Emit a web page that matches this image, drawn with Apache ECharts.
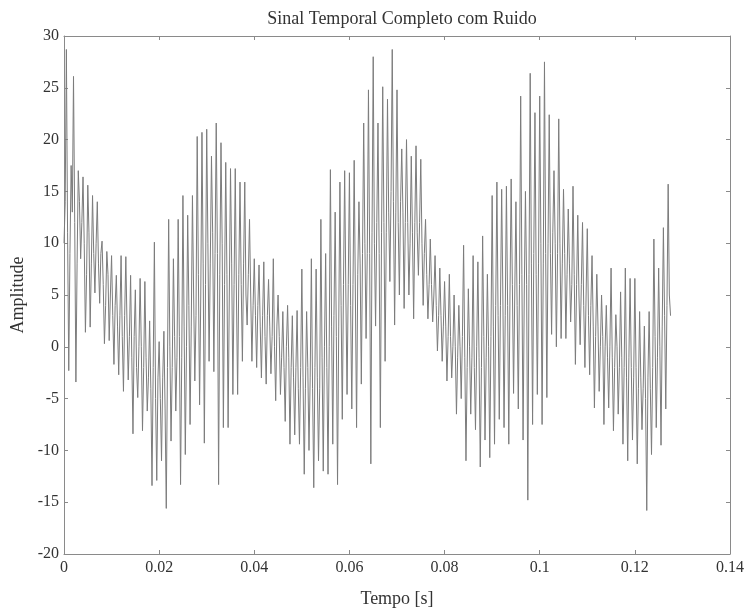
<!DOCTYPE html>
<html>
<head>
<meta charset="utf-8">
<script src="https://cdn.jsdelivr.net/npm/echarts@6/dist/echarts.min.js"></script>
<style>
html,body{margin:0;padding:0;background:#fff;}
#chart{width:748px;height:613px;}
</style>
</head>
<body>
<div id="chart"></div>
<script>
// Sampling of the signal
const sampleStart = 0;          // s
const samplePeriod = 0.00025;   // s between samples

// Amplitude samples, in four blocks
const amplitudeBlock1 = [
  10, 14, 28.7, 11, -2.3, 9, 17.5, 13,   26.1, 12, -3.4, 8, 17, 14, 8.5, 12,
  16.4, 10, 1.4, 7, 15.6, 11, 1.9, 8,    14.6, 9, 5.2, 10, 14, 8, 4.2, 9,
  10.2, 6, 0.3, 4, 9.2, 7, 0.6, 5,       8.8, 3, -1.7, 4, 6.9, 2, -2.7, 3,
  8.8, 1, -4.3, 3, 8.7, 2, -3.2, 1,      6.9, -1, -8.4, 1, 5.5, -2, -4.9, 0,
  6.6, 0, -8.1, -2, 6.3, -1, -6.2, -3,   2.5, -4, -13.4, -2, 10.1, -5, -12.9, -3,
  0.5, -5, -11, -3, 1.5, -6, -15.6, -2,  12.3, 0, -9.1, -2, 8.5, 1, -6.2, -1,
  12.3, 1, -13.3, -1, 14.6, 2, -10.4, 0, 12.7, 4, -7.5, 2, 14.6, 5, -3.3, 3,
  20.3, 7, -5.6, 5, 20.7, 8, -9.3, 6,    21, 10, -1.4, 8, 18.4, 11, -2.4, 9
];
const amplitudeBlock2 = [
  21.6, 9, -13.3, 7, 19.7, 10, -7.8, 6,  17.8, 7, -7.8, 5, 17.2, 8, -4.6, 6,
  17.2, 5, -4.6, 7, 15.9, 6, -1.4, 8,    15.9, 5, 2.1, 7, 12.3, 5, -1.4, 4,
  8.5, 3, -2, 4, 7.9, 2, -3, 3,          8.2, 1, -3.6, 3, 6.5, 2, -2.6, 1,
  8.5, 0, -5.2, 2, 5, 1, -4.6, -1,       3.4, -2, -7.2, 0, 4, -1, -9.4, -2,
  3, -3, -8.5, -2, 3.5, -4, -9.4, -2,    7.5, -3, -12.3, -4, 3.4, -2, -10, -3,
  8.5, -4, -13.6, -2, 7.5, -3, -11, -4,  12.3, -1, -12, 0, 9, -2, -12.3, 0,
  17.1, 2, -9.4, 3, 13, 1, -13.3, 2,     15.9, 4, -7, 6, 17, 5, -4.6, 6,
  16.8, 4, -6, 6, 18, 5, -7.8, 7,        14, 8, -3.6, 9, 21.6, 10, 0.8, 9
];
const amplitudeBlock3 = [
  24.8, 9, -11.3, 11, 28, 10, 2, 12,     21.6, 9, -7.8, 11, 25.1, 12, -1.4, 11,
  23.9, 13, 6.3, 15, 28.7, 14, 2.1, 13,  24.8, 12, 5, 14, 19.1, 13, 3.7, 12,
  20, 12, 5, 10, 18.4, 11, 2.7, 12,      19.4, 11, 6.9, 12, 18.1, 10, 4, 9,
  12.3, 7, 2.7, 6, 10.4, 6, 2.4, 5,      8.8, 4, -0.4, 3, 7.6, 3, -1.4, 2,
  6.3, 2, -3.3, 1, 7, 1, -3, 0,          5, 0, -6.5, -1, 4, 0, -5, 1,
  9.8, -1, -11, -2, 5.6, 0, -6.5, -1,    8.8, -2, -8, 0, 8.2, -1, -11.6, -2,
  10.7, 1, -9, -1, 7, 0, -10.7, 1,       14.6, 2, -9.4, 4, 15.9, 3, -7, 4,
  15.2, 5, -7.8, 3, 15.5, 4, -9.4, 5,    16.2, 6, -4.5, 5, 14, 4, -6, 6
];
const amplitudeBlock4 = [
  24.2, 7, -9, 5, 15, 6, -14.8, 7,       26.4, 8, -7.5, 9, 22.6, 7, -4.6, 8,
  24.2, 10, -7.5, 8, 27.5, 9, -4.9, 10,  22.4, 9, 1.2, 11, 17, 10, 0, 9,
  22, 10, 0.8, 8, 15.2, 9, 0.8, 7,       13.3, 8, 2.4, 6, 15.5, 7, -1.7, 6,
  12.7, 5, 0.2, 6, 12, 4, -2, 5,         11.4, 3, -2.7, 4, 8.8, 2, -5.9, 1,
  7, 2, -4.3, 0, 5, 1, -7.5, 0,          4, -1, -5.9, 0, 7.6, -1, -8.1, -2,
  3.1, 0, -6.5, -2, 5.3, -1, -9.4, -2,   7.6, -3, -11, -1, 6.6, -2, -9, -3,
  6.6, -2, -11.3, -4, 3.4, -3, -8, -4,   2, -5, -15.8, -3, 3.4, -4, -10.4, -2,
  10.4, 1, -7.8, -1, 7.6, 0, -9.5, 2,    11.5, 3, -6, 4, 15.7, 5, 3
];

// Axis ticks
const xTicks = [0, 0.02, 0.04, 0.06, 0.08, 0.1, 0.12, 0.14];
const yTicks = [-20, -15, -10, -5, 0, 5, 10, 15, 20, 25, 30];

const amplitude = amplitudeBlock1.concat(amplitudeBlock2, amplitudeBlock3, amplitudeBlock4);
const seriesData = amplitude.map((v, i) => [sampleStart + i * samplePeriod, v]);

const FONT = '"Liberation Serif", "DejaVu Serif", serif';
const AX = '#8a8a8a';
const TXT = '#333';

const chart = echarts.init(document.getElementById('chart'), null, {renderer: 'canvas'});
const baseX = {
  type: 'value',
  min: xTicks[0], max: xTicks[xTicks.length - 1], interval: 0.02,
  axisLine: {show: true, onZero: false, lineStyle: {color: AX, width: 1}},
  axisTick: {show: true, inside: true, length: 4, lineStyle: {color: AX}},
  splitLine: {show: false}
};
const baseY = {
  type: 'value',
  min: yTicks[0], max: yTicks[yTicks.length - 1], interval: 5,
  axisLine: {show: true, onZero: false, lineStyle: {color: AX, width: 1}},
  axisTick: {show: true, inside: true, length: 4, lineStyle: {color: AX}},
  splitLine: {show: false}
};
chart.setOption({
  animation: false,
  backgroundColor: '#fff',
  title: {
    text: 'Sinal Temporal Completo com Ruido',
    left: 397, top: 5, textAlign: 'center',
    textStyle: {fontFamily: FONT, fontSize: 18, fontWeight: 'normal', color: TXT}
  },
  grid: {left: 64, right: 18, top: 36, bottom: 56, containLabel: false},
  xAxis: [
    Object.assign({}, baseX, {
      position: 'bottom',
      name: 'Tempo [s]', nameLocation: 'middle', nameGap: 36,
      nameTextStyle: {fontFamily: FONT, fontSize: 18, color: TXT},
      axisLabel: {fontFamily: FONT, fontSize: 16, color: TXT, margin: 6,
        formatter: v => String(+v.toFixed(2))}
    }),
    Object.assign({}, baseX, {position: 'top', axisLabel: {show: false}})
  ],
  yAxis: [
    Object.assign({}, baseY, {
      position: 'left',
      name: 'Amplitude', nameLocation: 'middle', nameGap: 33,
      nameTextStyle: {fontFamily: FONT, fontSize: 18, color: TXT},
      axisLabel: {fontFamily: FONT, fontSize: 16, color: TXT, margin: 5}
    }),
    Object.assign({}, baseY, {position: 'right', axisLabel: {show: false}})
  ],
  series: [{
    type: 'line',
    xAxisIndex: 0, yAxisIndex: 0,
    data: seriesData,
    showSymbol: false,
    symbol: 'none',
    lineStyle: {color: '#7c7c7c', width: 1},
    emphasis: {disabled: true}
  }]
});
</script>
</body>
</html>
